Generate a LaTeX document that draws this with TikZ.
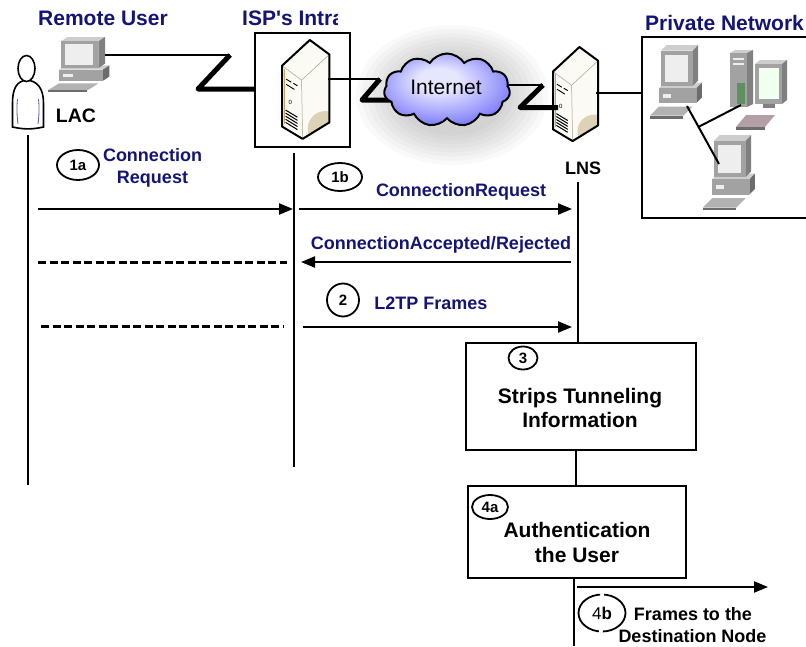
\documentclass[tikz,border=0pt]{standalone}
\usepackage{fontspec}
\setmainfont{Liberation Sans}
\usetikzlibrary{arrows.meta,shapes.symbols,shapes.geometric,calc}

\definecolor{navy}{RGB}{20,20,120}
\definecolor{srvFill}{RGB}{252,250,244}
\definecolor{srvShadow}{RGB}{222,210,182}
\definecolor{srvEdge}{RGB}{170,160,140}
\definecolor{srvBrown}{RGB}{200,160,110}
\definecolor{pcTop}{RGB}{205,205,205}
\definecolor{pcFront}{RGB}{162,162,162}
\definecolor{pcSide}{RGB}{128,128,128}
\definecolor{pcSideDark}{RGB}{108,108,108}
\definecolor{pcScreen}{RGB}{238,238,238}
\definecolor{pcKey}{RGB}{178,178,178}
\definecolor{cloudA}{RGB}{230,230,255}
\definecolor{cloudB}{RGB}{160,160,252}
\definecolor{cloudC}{RGB}{95,95,245}

\pgfdeclareradialshading{cloudfill}{\pgfpoint{-4bp}{8bp}}{color(0bp)=(cloudA); color(8bp)=(cloudA); color(22bp)=(cloudB); color(34bp)=(cloudC); color(50bp)=(cloudC)}

% desktop computer: monitor on a base unit, keyboard in front
\newcommand{\pcunit}[4]{%
\begin{scope}[shift={(#1,#2)}, xscale=#3, yscale=#4]
  \fill[pcKey] (-12,62) -- (-2,54) -- (34,54) -- (24,62) -- cycle;
  \fill[pcSideDark] (-12,62) -- (24,62) -- (24,64.5) -- (-12,64.5) -- cycle;
  \fill[pcTop] (-2,38) -- (4,33) -- (44,33) -- (38,38) -- cycle;
  \fill[pcSideDark] (38,38) -- (44,33) -- (44,46) -- (38,51) -- cycle;
  \fill[pcFront] (-2,38) rectangle (38,51);
  \fill[pcScreen] (2,43) rectangle (11,46.5);
  \fill[pcTop] (0,5) -- (6,0) -- (40,0) -- (34,5) -- cycle;
  \fill[pcSide] (34,5) -- (40,0) -- (40,31) -- (34,36) -- cycle;
  \fill[pcFront] (0,5) rectangle (34,36);
  \fill[pcScreen] (4,8.5) rectangle (29.5,32.5);
\end{scope}}

% tower server seen from above-left
\newcommand{\towericon}[3]{%
\begin{scope}[shift={(#1,#2)}, scale=#3]
  \fill[srvFill] (0,25) -- (27,0) -- (46,14) -- (46,80) -- (20,96) -- (0,84) -- cycle;
  \begin{scope}
    \clip (19,39) -- (46,14) -- (46,80) -- (20,96) -- cycle;
    \fill[srvShadow] (42,86) circle [radius=17];
  \end{scope}
  \draw[srvEdge, line width=0.5pt] (0,25) -- (19,39) -- (46,14) (19,39) -- (20,96);
  \draw[srvBrown, line width=1pt] (2.5,28) -- (2.5,82);
  \draw[line width=0.9pt] (4,38) -- (9,41) (11,42) -- (15,44.5) (4,43) -- (12,48);
  \node[font=\fontsize{6}{6}\selectfont, inner sep=0pt] at (8,61) {0};
  \foreach \k in {0,...,4}
    \draw[line width=1pt] (3.5,68+3*\k) -- (15,75+3*\k);
  \draw[line width=2pt, line join=round] (0,25) -- (27,0) -- (46,14) -- (46,80) -- (20,96) -- (0,84) -- cycle;
\end{scope}}

\begin{document}
\begin{tikzpicture}[x=1pt,y=-1pt,
  life/.style={line width=2.5pt},
  msg/.style={line width=2.2pt,-{Triangle[length=14pt,width=11pt]}},
  dashmsg/.style={line width=3pt, dash pattern=on 8pt off 3.5pt},
  thinlink/.style={line width=2.4pt},
  thicklink/.style={line width=5pt, line join=round},
  plainlink/.style={line width=2pt},
  stepbox/.style={draw, line width=2.4pt, fill=white, inner sep=0pt},
  framebox/.style={draw, line width=2.2pt, inner sep=0pt},
  num/.style={draw, ellipse, line width=1.8pt, inner sep=0pt, font=\bfseries\fontsize{15}{15}\selectfont},
  ttl/.style={text=navy, font=\bfseries\fontsize{21}{24}\selectfont, inner sep=0pt},
  lbl/.style={text=navy, font=\bfseries\fontsize{18}{22}\selectfont, inner sep=0pt},
  blk/.style={text=black, font=\bfseries\fontsize{21}{24}\selectfont, inner sep=0pt},
  blks/.style={text=black, font=\bfseries\fontsize{18}{22}\selectfont, inner sep=0pt}
]
\useasboundingbox (0,0) rectangle (806,646);

% ---------- titles ----------
\node[ttl, anchor=base] (tRemote) at (103,25) {Remote User};
\begin{scope}
  \clip (230,0) rectangle (337,40);
  \node[ttl, anchor=base west] (tIsp) at (242,25) {ISP\textquotesingle s Intra};
\end{scope}
\node[ttl, anchor=base west] (tPriv) at (645,30) {Private Network};

% ---------- frames ----------
\node[framebox, minimum width=95pt, minimum height=114pt] (ispbox) at (302.5,90) {};
\node[framebox, minimum width=166pt, minimum height=181pt] (privbox) at (725,127.5) {};

% ---------- soft haze behind the cloud ----------
\foreach \s in {1.0,0.94,0.88,0.82,0.76,0.70,0.64,0.58}
  \fill[black, opacity=0.022] (452,95) ellipse [x radius=96*\s, y radius=70*\s];

% ---------- remote user ----------
\draw[line width=1.6pt, fill=white] (12.5,127) -- (12.5,103) .. controls (12.5,88) and (17,81) .. (27,80)
  .. controls (37,81) and (43.5,88) .. (43.5,103) -- (43.5,127) .. controls (32,129.5) and (24,129.5) .. (12.5,127) -- cycle;
\draw[line width=0.8pt, draw=navy!70] (17.5,99) .. controls (16.5,108) and (17,116) .. (18,124)
  (38.5,99) .. controls (39.5,108) and (39,116) .. (38,124);
\node[draw, ellipse, line width=1.6pt, fill=white, minimum width=17pt, minimum height=26pt, inner sep=0pt] (head) at (26.5,68.5) {};
\node[blk, font=\bfseries\fontsize{19.5}{22}\selectfont, anchor=base] (lac) at (76,122) {LAC};

\pcunit{61}{37}{1.1}{0.86}
\coordinate (rpcR) at (105,55);

% ---------- servers ----------
\towericon{282}{40}{1.03}
\towericon{553}{47}{0.98}
\coordinate (ispR) at (328,79);
\coordinate (lnsR) at (596,93);
\node[blks, anchor=base] (lns) at (583,174) {LNS};

% ---------- private network ----------
\pcunit{661}{45}{0.93}{1.14}
\pcunit{714}{135}{0.93}{1.17}
% tower with separate monitor
\fill[pcKey!90!purple] (736,127) -- (746,115) -- (775,115) -- (765,127) -- cycle;
\fill[pcSideDark] (736,127) -- (765,127) -- (765,129.5) -- (736,129.5) -- cycle;
\fill[pcTop] (730,53) -- (735,50) -- (753,50) -- (747,53) -- cycle;
\fill[pcSide] (747,53) -- (753,50) -- (753,104) -- (747,107) -- cycle;
\fill[pcFront] (730,53) rectangle (747,107);
\fill[pcScreen] (733,58) rectangle (744,60);
\fill[pcScreen] (733,62.5) rectangle (744,64.5);
\fill[black!25!green!25!gray] (737,83) rectangle (745,104);
\fill[pcSide] (763,103) rectangle (775,108);
\fill[pcTop] (755,64) -- (760,60) -- (787,60) -- (782,64) -- cycle;
\fill[pcSide] (782,64) -- (787,60) -- (787,100) -- (782,104) -- cycle;
\fill[pcFront] (755,64) rectangle (782,104);
\fill[green!6!white] (758.5,68) rectangle (779,99);
\coordinate (pc1) at (687,106);
\coordinate (pc3) at (719,164);
\coordinate (pc2) at (741,105);
\draw[plainlink] (pc1) -- (pc3);
\draw[plainlink] ($(pc1)!0.36!(pc3)$) -- (pc2);

% ---------- links ----------
\coordinate (z1a) at (230,55);
\coordinate (z1b) at (198,89);
\draw[thinlink] (rpcR) -- (z1a);
\draw[thicklink] (z1a) -- (z1b) -- (z1b -| ispbox.west);

\coordinate (z2a) at (380,79);
\coordinate (z2b) at (362,100);
\coordinate (cloudIn) at (402,100);
\draw[plainlink] (ispR) -- (z2a);
\draw[thicklink] (z2a) -- (z2b) -- (cloudIn);

\coordinate (cloudOut) at (500,85);
\coordinate (z3a) at (543,85);
\coordinate (z3b) at (520,107.5);
\coordinate (lnsIn) at (558,107.5);
\draw[plainlink] (cloudOut) -- (z3a);
\draw[thicklink] (z3a) -- (z3b) -- (lnsIn);

\draw[plainlink] (lnsR) -- (lnsR -| privbox.west);

% ---------- cloud ----------
\node[cloud, draw, shade, shading=cloudfill, line width=2pt, cloud puffs=11, cloud puff arc=115,
      aspect=1.75, minimum width=126pt, minimum height=73pt, inner sep=0pt] (cloud) at (447,90) {};
\node[font=\fontsize{21}{24}\selectfont, anchor=base, inner sep=0pt] (inet) at (446,94) {Internet};

% ---------- lifelines ----------
\coordinate (lacTop) at (28,135);
\coordinate (lacBot) at (28,485);
\coordinate (ispTop) at (294,153);
\coordinate (ispBot) at (294,467);
\coordinate (lnsTop) at (578,182);
\coordinate (lnsMid) at (576,470);
\coordinate (lnsEnd) at (574,646);
\draw[life] (lacTop) -- (lacBot);
\draw[life] (ispTop) -- (ispBot);

\node[stepbox, minimum width=230pt, minimum height=107pt] (box3) at (581,396.5) {};
\node[stepbox, minimum width=218pt, minimum height=92pt] (box4a) at (577,532) {};
\draw[life] (lnsTop) -- (lnsTop |- box3.north);
\draw[life] (lnsMid |- box3.south) -- (lnsMid |- box4a.north);
\draw[life] (lnsEnd |- box4a.south) -- (lnsEnd);

% ---------- step 1a ----------
\node[num, minimum width=42pt, minimum height=30pt] (n1a) at (78,165) {1a};
\node[lbl, anchor=base] (l1a) at (152.5,161) {Connection};
\node[lbl, anchor=base] (l1a2) at (152.5,183) {Request};
\coordinate (m1s) at (38,209);
\coordinate (m1e) at (293,209);
\draw[msg] (m1s) -- (m1e);

% ---------- step 1b ----------
\node[num, minimum width=44pt, minimum height=28pt] (n1b) at (340,177) {1b};
\node[lbl, anchor=base] (l1b) at (461,196) {ConnectionRequest};
\coordinate (m2s) at (299,209);
\coordinate (m2e) at (572,209);
\draw[msg] (m2s) -- (m2e);

% ---------- accept / reject ----------
\node[lbl, anchor=base] (lacc) at (441,249) {ConnectionAccepted/Rejected};
\coordinate (m3s) at (571,262);
\coordinate (m3e) at (301,262);
\draw[msg] (m3s) -- (m3e);
\coordinate (d1s) at (38,262);
\coordinate (d1e) at (287,262);
\draw[dashmsg] (d1s) -- (d1e);

% ---------- step 2 ----------
\node[num, minimum width=32pt, minimum height=33pt] (n2) at (343,300) {2};
\node[lbl, anchor=base] (l2) at (431,309) {L2TP Frames};
\coordinate (d2s) at (41,326);
\coordinate (d2e) at (284,326);
\draw[dashmsg] (d2s) -- (d2e);
\coordinate (m4s) at (303,327);
\coordinate (m4e) at (572,327);
\draw[msg] (m4s) -- (m4e);

% ---------- step 3 ----------
\node[num, minimum width=29pt, minimum height=23pt] (n3) at (523,358) {3};
\node[blk, anchor=base] (t3a) at (580,403) {Strips Tunneling};
\node[blk, anchor=base] (t3b) at (580,427) {Information};

% ---------- step 4a ----------
\node[num, minimum width=36pt, minimum height=24pt] (n4a) at (490,507) {4a};
\node[blk, anchor=base] (t4a) at (577,537) {Authentication};
\node[blk, anchor=base] (t4b) at (577,562) {the User};

% ---------- step 4b ----------
\coordinate (m5s) at (577,587);
\coordinate (m5e) at (768,587);
\draw[msg] (m5s) -- (m5e);
\node[draw, ellipse, line width=1.8pt, minimum width=47pt, minimum height=37pt, inner sep=0pt,
      dash pattern=on 31pt off 4pt on 61pt off 4pt on 40pt,
      font=\bfseries\fontsize{17}{17}\selectfont] (n4b) at (602,613) {{\mdseries 4}b};
\node[blks, anchor=base] (t5a) at (693,620) {Frames to the};
\node[blks, anchor=base] (t5b) at (692.5,642) {Destination Node};
\end{tikzpicture}
\end{document}
